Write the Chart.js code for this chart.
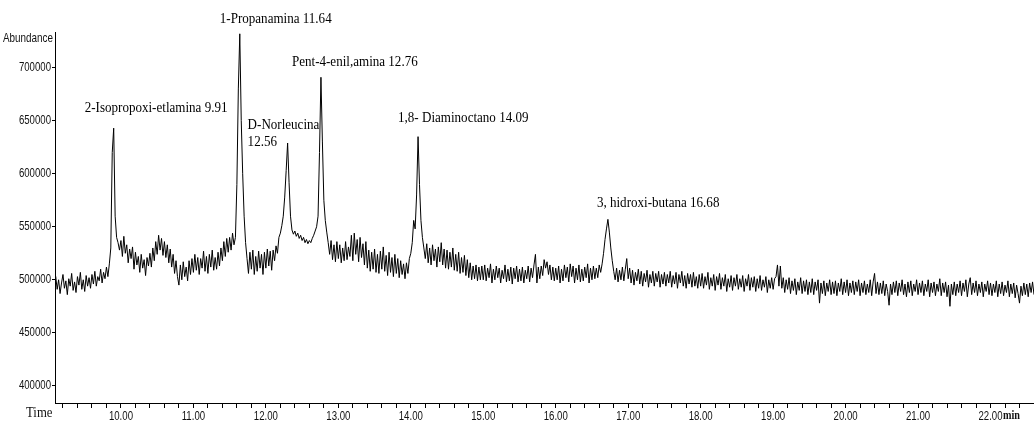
<!DOCTYPE html>
<html lang="es">
<head>
    <meta charset="UTF-8">
    <title>Cromatograma</title>
    <script src="https://cdn.jsdelivr.net/npm/chart.js"></script>
    <style>
        body { margin: 0; background: #fff; }
        #wrap { width: 1034px; height: 423px; position: relative; }
    </style>
</head>
<body>
    <div id="wrap"><canvas id="tic"></canvas></div>

    <script>
        // scan grid of the TIC (minutes)
        const scanStart = 9.08;
        const scanInterval = 0.02;

        // abundance, one row per half minute
        const abundance = [
            // 9.08 - 9.56
            496000, 503000, 491000, 500000, 487000, 497000, 505000, 492000, 499000, 486000, 501000, 494000, 506000, 490000, 498000, 488000, 503000, 495000, 507000, 491000, 500000, 489000, 504000, 494000, 502000,
            // 9.58 - 9.98
            492000, 505000, 496000, 508000, 494000, 503000, 499000, 510000, 497000, 507000, 501000, 512000, 503000, 515000, 530000, 620000, 643000, 560000, 540000, 535000, 528000,
            // 10.00
            537000, 522000, 541000, 525000, 533000, 516000, 529000, 520000, 531000, 510000, 526000, 514000, 522000, 507000, 524000, 511000, 519000, 504000, 521000, 513000, 525000, 512000, 530000, 518000, 536000,
            // 10.50
            524000, 542000, 528000, 539000, 523000, 536000, 521000, 533000, 516000, 529000, 512000, 524000, 506000, 518000, 503000, 495000, 514000, 500000, 517000, 503000, 512000, 499000, 518000, 505000, 520000,
            // 11.00
            507000, 524000, 509000, 521000, 505000, 520000, 511000, 527000, 508000, 522000, 506000, 524000, 512000, 528000, 509000, 521000, 510000, 526000, 513000, 530000, 518000, 536000, 522000, 539000, 526000,
            // 11.50
            540000, 528000, 544000, 533000, 540000, 590000, 680000, 732000, 650000, 600000, 560000, 535000, 520000, 506000, 526000, 510000, 528000, 505000, 522000, 508000, 527000, 511000, 524000, 505000, 526000,
            // 12.00
            511000, 529000, 513000, 527000, 509000, 528000, 518000, 532000, 525000, 540000, 544000, 551000, 560000, 578000, 603000, 629000, 592000, 560000, 547000, 543000, 546000, 541000, 544000, 539000, 542000,
            // 12.50
            537000, 540000, 535000, 538000, 534000, 537000, 535000, 539000, 542000, 546000, 550000, 560000, 620000, 691000, 630000, 575000, 556000, 545000, 535000, 524000, 537000, 519000, 533000, 517000, 536000,
            // 13.00
            520000, 533000, 516000, 530000, 518000, 536000, 519000, 531000, 522000, 542000, 518000, 544000, 524000, 538000, 517000, 540000, 521000, 534000, 514000, 536000, 511000, 528000, 508000, 526000, 510000,
            // 13.50
            529000, 507000, 524000, 506000, 527000, 510000, 531000, 508000, 523000, 504000, 526000, 507000, 521000, 503000, 524000, 506000, 520000, 502000, 518000, 505000, 515000, 501000, 516000, 506000, 520000,
            // 14.00
            525000, 535000, 556000, 548000, 580000, 635000, 590000, 556000, 540000, 530000, 520000, 534000, 516000, 530000, 514000, 533000, 518000, 529000, 512000, 531000, 517000, 535000, 514000, 529000, 511000,
            // 14.50
            528000, 510000, 526000, 512000, 530000, 509000, 524000, 508000, 526000, 506000, 521000, 507000, 523000, 504000, 519000, 502000, 516000, 500000, 513000, 501000, 514000, 499000, 512000, 500000, 513000,
            // 15.00
            500000, 514000, 499000, 511000, 502000, 515000, 497000, 510000, 500000, 513000, 502000, 511000, 497000, 509000, 501000, 514000, 498000, 510000, 499000, 512000, 496000, 511000, 501000, 513000, 498000,
            // 15.50
            510000, 499000, 512000, 497000, 509000, 501000, 513000, 498000, 511000, 502000, 514000, 524000, 497000, 512000, 501000, 513000, 504000, 519000, 511000, 517000, 505000, 514000, 500000, 512000, 499000,
            // 16.00
            511000, 500000, 513000, 497000, 510000, 499000, 514000, 502000, 512000, 498000, 515000, 503000, 513000, 497000, 511000, 500000, 514000, 498000, 510000, 499000, 512000, 502000, 515000, 497000, 511000,
            // 16.50
            500000, 513000, 501000, 511000, 502000, 514000, 507000, 515000, 525000, 538000, 548000, 557000, 545000, 530000, 518000, 508000, 500000, 511000, 498000, 509000, 500000, 512000, 499000, 510000, 520000,
            // 17.00
            501000, 511000, 497000, 509000, 495000, 507000, 499000, 510000, 496000, 508000, 494000, 506000, 498000, 509000, 493000, 505000, 497000, 508000, 494000, 506000, 498000, 508000, 493000, 505000, 496000,
            // 17.50
            507000, 494000, 505000, 497000, 508000, 493000, 504000, 496000, 507000, 492000, 505000, 497000, 508000, 494000, 504000, 492000, 506000, 496000, 505000, 493000, 507000, 494000, 503000, 492000, 505000,
            // 18.00
            494000, 506000, 492000, 503000, 495000, 507000, 491000, 502000, 494000, 505000, 490000, 503000, 495000, 506000, 491000, 502000, 494000, 505000, 489000, 501000, 493000, 504000, 490000, 502000, 494000,
            // 18.50
            505000, 491000, 501000, 493000, 504000, 489000, 501000, 494000, 505000, 490000, 502000, 493000, 503000, 489000, 501000, 492000, 504000, 490000, 500000, 493000, 503000, 488000, 500000, 492000, 502000,
            // 19.00
            491000, 501000, 503000, 514000, 494000, 513000, 492000, 502000, 488000, 500000, 491000, 502000, 487000, 499000, 490000, 501000, 486000, 498000, 490000, 502000, 487000, 499000, 489000, 500000, 486000,
            // 19.50
            498000, 488000, 501000, 486000, 498000, 490000, 500000, 478000, 497000, 487000, 499000, 485000, 497000, 489000, 500000, 486000, 498000, 487000, 499000, 485000, 497000, 489000, 501000, 486000, 498000,
            // 20.00
            488000, 500000, 485000, 497000, 488000, 499000, 486000, 498000, 489000, 500000, 485000, 497000, 488000, 499000, 486000, 496000, 488000, 500000, 485000, 498000, 506000, 487000, 498000, 486000, 497000,
            // 20.50
            487000, 499000, 485000, 496000, 489000, 476000, 496000, 486000, 498000, 488000, 499000, 485000, 497000, 489000, 500000, 486000, 496000, 484000, 498000, 488000, 499000, 485000, 496000, 489000, 500000,
            // 21.00
            486000, 497000, 488000, 499000, 485000, 496000, 489000, 500000, 484000, 497000, 488000, 498000, 485000, 496000, 489000, 501000, 485000, 497000, 488000, 498000, 484000, 495000, 475000, 496000, 486000,
            // 21.50
            498000, 485000, 496000, 488000, 499000, 485000, 497000, 489000, 500000, 484000, 496000, 502000, 486000, 497000, 488000, 499000, 485000, 496000, 488000, 498000, 484000, 496000, 489000, 499000, 486000,
            // 22.00 - 22.60
            497000, 485000, 496000, 488000, 499000, 484000, 496000, 487000, 498000, 485000, 495000, 488000, 499000, 484000, 496000, 487000, 497000, 483000, 495000, 487000, 478000, 494000, 485000, 497000, 486000, 496000, 484000, 497000, 488000, 498000, 486000
        ];

        // axis labels
        const abundanceTicks = [400000, 450000, 500000, 550000, 600000, 650000, 700000];
        const timeTicks = [10, 11, 12, 13, 14, 15, 16, 17, 18, 19, 20, 21, 22];

        // peak annotations
        const peakNames = [
            '2-Isopropoxi-etlamina 9.91',
            '1-Propanamina 11.64',
            ['D-Norleucina', '12.56'],
            'Pent-4-enil,amina 12.76',
            '1,8- Diaminoctano 14.09',
            '3, hidroxi-butana 16.68'
        ];
        const peakApex = [9.90, 11.64, 12.30, 12.76, 14.10, 16.72];

        // where each label sits relative to its apex (px)
        const labelOffsets = [[-29, -20], [-20, -15], [-40, -18], [-29, -15], [-20, -19], [-11, -16]];

        const sansFont = '"Liberation Sans", Arial, sans-serif';
        const serifFont = '"Liberation Serif", "DejaVu Serif", serif';

        const points = abundance.map((v, i) => ({ x: scanStart + i * scanInterval, y: v }));

        // the plot software uses a tall narrow face, so squeeze text horizontally
        function narrowText(ctx, text, x, y, font, align, squeeze) {
            ctx.save();
            ctx.font = font;
            ctx.textAlign = align;
            ctx.textBaseline = 'middle';
            ctx.translate(x, y);
            ctx.scale(squeeze, 1);
            ctx.fillText(text, 0, 0);
            ctx.restore();
        }

        const chromLabels = {
            id: 'chromLabels',
            afterDraw(chart) {
                const { ctx, chartArea } = chart;
                const x = chart.scales.x;
                const y = chart.scales.y;
                ctx.save();
                ctx.fillStyle = '#111';

                abundanceTicks.forEach(v => {
                    narrowText(ctx, String(v), chartArea.left - 4, y.getPixelForValue(v), '13px ' + sansFont, 'right', 0.74);
                });
                timeTicks.forEach(t => {
                    narrowText(ctx, t.toFixed(2), x.getPixelForValue(t), chartArea.bottom + 13, '13px ' + sansFont, 'center', 0.74);
                });
                narrowText(ctx, 'Abundance', chartArea.left - 2, chartArea.top + 6, '13px ' + sansFont, 'right', 0.76);
                narrowText(ctx, 'Time', 26, chartArea.bottom + 10, '15px ' + serifFont, 'left', 0.85);
                narrowText(ctx, 'min', 1003, chartArea.bottom + 13, 'bold 12px ' + serifFont, 'left', 0.85);

                ctx.fillStyle = '#000';
                peakNames.forEach((name, i) => {
                    const idx = Math.round((peakApex[i] - scanStart) / scanInterval);
                    const px = x.getPixelForValue(peakApex[i]);
                    const py = y.getPixelForValue(abundance[idx]);
                    [].concat(name).forEach((line, k) => {
                        narrowText(ctx, line, px + labelOffsets[i][0], py + labelOffsets[i][1] + k * 17, '15px ' + serifFont, 'left', 0.87);
                    });
                });
                ctx.restore();
            }
        };

        const ctx = document.getElementById('tic').getContext('2d');
        const ticChart = new Chart(ctx, {
            type: 'line',
            data: {
                datasets: [{
                    label: 'TIC',
                    data: points,
                    borderColor: '#000',
                    borderWidth: 1,
                    pointRadius: 0,
                    tension: 0,
                    fill: false
                }]
            },
            options: {
                responsive: true,
                maintainAspectRatio: false,
                animation: false,
                layout: { padding: { top: 32, right: 0, left: 0, bottom: 0 } },
                plugins: {
                    legend: { display: false },
                    tooltip: { enabled: false }
                },
                scales: {
                    x: {
                        type: 'linear',
                        min: 9.09,
                        max: 22.6,
                        afterFit: scale => { scale.height = 20; },
                        border: { display: true, color: '#000', width: 1 },
                        grid: { drawOnChartArea: false, drawTicks: true, tickLength: 5, tickColor: '#000' },
                        ticks: { display: false, stepSize: 0.2, includeBounds: false, autoSkip: false }
                    },
                    y: {
                        min: 383800,
                        max: 733700,
                        afterFit: scale => { scale.width = 55; },
                        afterBuildTicks: scale => { scale.ticks = abundanceTicks.map(v => ({ value: v })); },
                        border: { display: true, color: '#000', width: 1 },
                        grid: { drawOnChartArea: false, drawTicks: true, tickLength: 3, tickColor: '#000' },
                        ticks: { display: false }
                    }
                }
            },
            plugins: [chromLabels]
        });
    </script>
</body>
</html>
